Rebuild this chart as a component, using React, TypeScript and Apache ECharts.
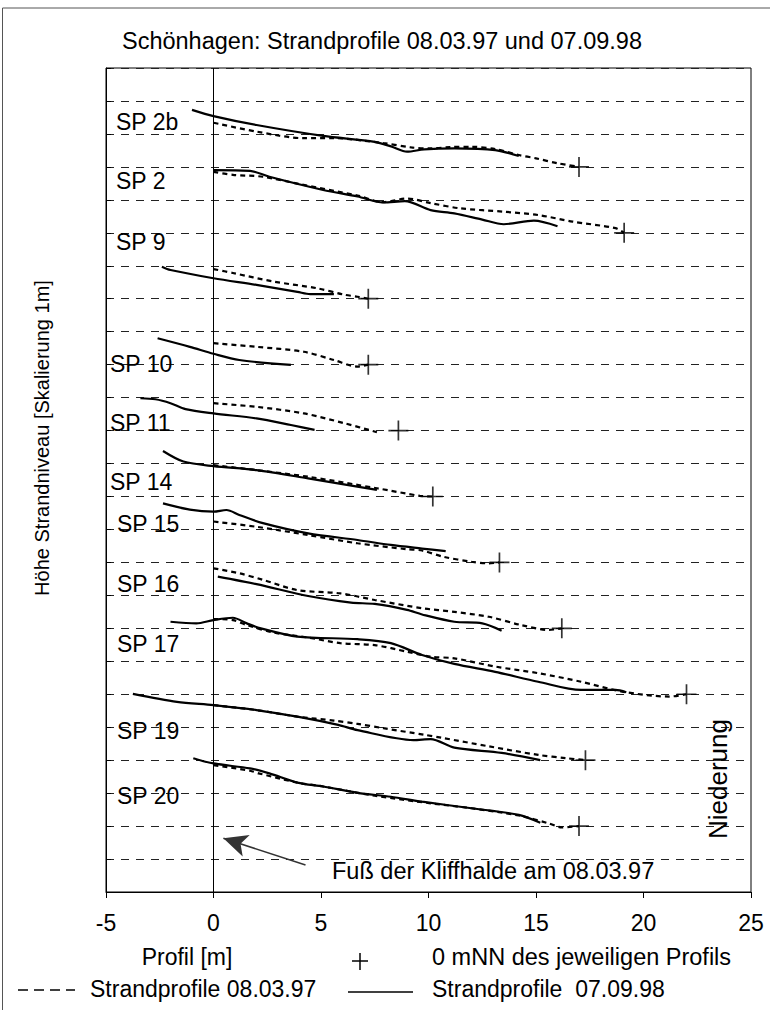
import React, { useEffect, useRef } from "react";
import * as echarts from "echarts";

// ---------- data (x = Profil [m], y = Höhe, 1 grid step = 1 m) ----------
const xTicks = [-5, 0, 5, 10, 15, 20, 25];

const profileNames = ["SP 2b", "SP 2", "SP 9", "SP 10", "SP 11", "SP 14", "SP 15", "SP 16", "SP 17", "SP 19", "SP 20"];

// 0 mNN of each profile (crosses)
const zeroMarks = [
  [17, 22], [19.1, 20], [7.2, 18], [7.2, 16], [8.6, 14], [10.2, 12],
  [13.3, 10], [16.2, 8], [22, 6], [17.3, 4], [17, 2],
];

// Strandprofile 08.03.97 (dashed)
const sp2b_97 = [[0, 23.34], [2, 23.07], [4.2, 22.87], [5.6, 22.87], [7.9, 22.72], [9.2, 22.59], [10.1, 22.56], [11, 22.6], [12, 22.61], [13.1, 22.54], [14.2, 22.36], [15, 22.26], [16, 22.11], [17, 22]];
const sp2_97 = [[0, 21.85], [0.9, 21.76], [2.3, 21.7], [4, 21.48], [6.7, 21.13], [7.9, 20.93], [9, 21.04], [10.1, 20.9], [11.5, 20.74], [13.5, 20.64], [15.1, 20.54], [16.7, 20.34], [18.7, 20.14], [19.1, 20]];
const sp9_97 = [[0, 18.9], [0.9, 18.78], [2.8, 18.52], [4.8, 18.32], [6.1, 18.12], [6.7, 18.06], [7.2, 18]];
const sp10_97 = [[0, 16.65], [2, 16.54], [4.2, 16.39], [5.6, 16.14], [6.7, 15.94], [7.2, 16]];
const sp11_97 = [[0, 14.83], [2, 14.72], [4.2, 14.52], [6.1, 14.22], [7.6, 13.95]];
const sp14_97 = [[0, 12.95], [2, 12.8], [4.4, 12.6], [7.6, 12.25], [9.6, 12.02], [10.2, 12]];
const sp15_97 = [[0, 11.24], [2, 11.08], [4.4, 10.83], [6.7, 10.58], [9, 10.4], [9.7, 10.36], [10.7, 10.17], [12, 10.02], [12.8, 9.97], [13.3, 10]];
const sp16_97 = [[0, 9.82], [1.2, 9.67], [2.3, 9.47], [3.9, 9.16], [5.9, 9.06], [7.5, 8.86], [9.7, 8.61], [11.2, 8.5], [12.8, 8.35], [14.3, 8.1], [15.6, 7.95], [16.2, 8]];
const sp17_97 = [[0, 8.28], [0.9, 8.25], [1.55, 8.1], [2.8, 7.87], [4.4, 7.72], [5.9, 7.55], [7.5, 7.49], [9, 7.29], [10.1, 7.14], [11.2, 7.09], [13.1, 6.84], [15.1, 6.64], [17.1, 6.38], [19, 6.08], [21.2, 5.93], [22, 6]];
const sp19_97 = [[0, 5.67], [2, 5.52], [3.9, 5.32], [5.6, 5.2], [6.7, 5.1], [7.9, 4.97], [9.8, 4.77], [10.6, 4.68], [12.8, 4.42], [15.1, 4.16], [16.4, 4.06], [17.3, 4]];
const sp20_97 = [[0, 3.85], [1.7, 3.68], [2.1, 3.6], [3.9, 3.32], [5.1, 3.2], [7.5, 2.92], [10.1, 2.69], [12, 2.54], [14.2, 2.32], [15.6, 2.08], [16.2, 1.96], [17, 2]];

// Strandprofile 07.09.98 (solid)
const sp2b_98 = [[-1, 23.73], [0, 23.54], [2, 23.27], [5.1, 22.94], [7.5, 22.76], [8.3, 22.61], [9, 22.46], [9.8, 22.53], [11.2, 22.56], [13.1, 22.51], [14.2, 22.33]];
const sp2_98 = [[0, 21.9], [1.7, 21.88], [2.6, 21.7], [5.1, 21.3], [6.7, 21.1], [7.9, 20.92], [8.9, 20.96], [10.1, 20.69], [11.2, 20.59], [12.5, 20.4], [13.5, 20.26], [14.9, 20.37], [16, 20.2]];
const sp9_98 = [[-2.4, 18.97], [-2, 18.87], [0, 18.62], [2, 18.42], [3.9, 18.21], [4.5, 18.14], [5.6, 18.14]];
const sp10_98 = [[-2.6, 16.8], [-1.1, 16.54], [0, 16.33], [1.2, 16.14], [3.6, 15.99]];
const sp11_98 = [[-3.4, 14.98], [-2.7, 14.95], [-2, 14.83], [-1.3, 14.65], [0, 14.52], [2, 14.37], [3.6, 14.17], [4.7, 14.02]];
const sp14_98 = [[-2.35, 13.38], [-1.4, 13.06], [0, 12.92], [2, 12.8], [4.4, 12.55], [7.6, 12.2]];
const sp15_98 = [[-2.35, 11.79], [-1.1, 11.6], [0, 11.54], [0.6, 11.59], [1.2, 11.44], [2.3, 11.19], [4.4, 10.88], [6.7, 10.68], [8.25, 10.53], [9.7, 10.42], [10.8, 10.34]];
const sp16_98 = [[0.2, 9.57], [2, 9.34], [4.4, 8.98], [6.4, 8.78], [7.5, 8.74], [9, 8.56], [9.7, 8.42], [11.2, 8.2], [12.5, 8.15], [13.4, 7.93]];
const sp17_98 = [[-2, 8.2], [-0.8, 8.15], [0, 8.25], [0.9, 8.32], [1.55, 8.15], [2.2, 8], [3.9, 7.75], [6.7, 7.67], [8.25, 7.55], [9.7, 7.19], [11.2, 6.92], [13.1, 6.68], [15.1, 6.38], [17.1, 6.13], [18.7, 6.13], [19.2, 6.06]];
const sp19_98 = [[-3.75, 6.01], [-1.7, 5.77], [0, 5.67], [2, 5.52], [3.9, 5.32], [5.8, 5.07], [6.7, 4.91], [9.3, 4.61], [10.1, 4.64], [11.2, 4.38], [13.4, 4.22], [15.2, 4.0]];
const sp20_98 = [[-0.94, 4.06], [0, 3.9], [1.7, 3.75], [2.6, 3.6], [3.9, 3.32], [5.1, 3.2], [6.7, 3.01], [8.25, 2.89], [9.7, 2.74], [12, 2.54], [14.2, 2.34], [15.2, 2.1]];

const profiles1997 = [sp2b_97, sp2_97, sp9_97, sp10_97, sp11_97, sp14_97, sp15_97, sp16_97, sp17_97, sp19_97, sp20_97];
const profiles1998 = [sp2b_98, sp2_98, sp9_98, sp10_98, sp11_98, sp14_98, sp15_98, sp16_98, sp17_98, sp19_98, sp20_98];

// annotation arrow (data coordinates): Fuß der Kliffhalde
const arrowFrom = [4.28, 0.82];
const arrowTo = [0.46, 1.63];

// ---------- layout ----------
const FONT = '"Liberation Sans", Arial, Helvetica, sans-serif';
const spLabelLayout = [
  [116, 122], [116, 181], [116, 242], [110, 364], [110, 423], [110, 482],
  [117, 524], [117, 584], [117, 644], [117, 731], [117, 796],
];

function txt(text: string, x: number, y: number, size: number, align = "left", rotation = 0) {
  return {
    type: "text",
    x,
    y,
    rotation,
    z: 100,
    style: {
      text,
      fill: "#000",
      font: `${size}px ${FONT}`,
      textAlign: align,
      align,
      textVerticalAlign: "middle",
      verticalAlign: "middle",
    },
  };
}

function seg(x1: number, y1: number, x2: number, y2: number, width: number, dash?: number[], color = "#000") {
  return {
    type: "line",
    z: 100,
    shape: { x1, y1, x2, y2 },
    style: { stroke: color, lineWidth: width, lineDash: dash || null },
  };
}

function buildOption() {
  const series: any[] = [];
  profiles1997.forEach((d, i) => {
    series.push({
      name: profileNames[i] + " 08.03.97",
      type: "line",
      data: d,
      symbol: "none",
      smooth: 0.3,
      z: 3,
      lineStyle: { color: "#000", width: 2.2, type: [5, 4] },
    });
  });
  profiles1998.forEach((d, i) => {
    series.push({
      name: profileNames[i] + " 07.09.98",
      type: "line",
      data: d,
      symbol: "none",
      smooth: 0.3,
      z: 4,
      lineStyle: { color: "#000", width: 2.2, type: "solid" },
    });
  });
  series.push({
    name: "0 mNN",
    type: "scatter",
    data: zeroMarks,
    symbol: "path://M10,0L10,20M0,10L20,10",
    symbolSize: [20, 20],
    z: 5,
    itemStyle: { color: "none", borderColor: "#000", borderWidth: 1.7 },
  });
  series.push({
    name: "x0",
    type: "scatter",
    data: [],
    markLine: {
      silent: true,
      symbol: ["none", "none"],
      label: { show: false },
      lineStyle: { color: "#000", width: 1, type: "solid" },
      data: [{ xAxis: 0 }],
    },
  });
  series.push({
    name: "arrow",
    type: "scatter",
    data: [],
    markLine: {
      silent: true,
      symbol: ["none", "arrow"],
      symbolSize: [17, 24],
      label: { show: false },
      lineStyle: { color: "#333", width: 1.6, type: "solid" },
      data: [[{ coord: arrowFrom }, { coord: arrowTo }]],
    },
  });

  const graphic: any[] = [
    // outer frame
    seg(2.5, 8, 2.5, 1010, 1, undefined, "#555"),
    seg(2.5, 8, 770, 8, 1, undefined, "#555"),
    txt("Schönhagen: Strandprofile 08.03.97 und 07.09.98", 382, 41, 23.5, "center"),
    txt("Höhe Strandniveau [Skalierung 1m]", 42, 438, 20, "center", Math.PI / 2),
    txt("Niederung", 718, 779, 26, "center", Math.PI / 2),
    txt("Fuß der Kliffhalde am 08.03.97", 332, 871, 23.5, "left"),
    txt("Profil [m]", 187, 957, 23, "center"),
    seg(352, 961, 368, 961, 1.5),
    seg(360, 953, 360, 970, 1.5),
    txt("0 mNN des jeweiligen Profils", 432, 957, 23.5, "left"),
    seg(18, 990, 75, 990, 1.5, [10, 6]),
    txt("Strandprofile 08.03.97", 90, 989, 23, "left"),
    seg(348, 992, 413, 992, 1.5),
    txt("Strandprofile  07.09.98", 432, 989, 23, "left"),
  ];
  profileNames.forEach((n, i) => {
    graphic.push(txt(n, spLabelLayout[i][0], spLabelLayout[i][1], 23, "left"));
  });

  return {
    animation: false,
    backgroundColor: "#fff",
    grid: { left: 106, top: 68, right: 19, bottom: 118, show: true, borderColor: "#000", borderWidth: 1, backgroundColor: "transparent" },
    xAxis: {
      type: "value",
      min: xTicks[0],
      max: xTicks[xTicks.length - 1],
      interval: 5,
      axisLine: { show: true, onZero: false, lineStyle: { color: "#000", width: 1 } },
      axisTick: { show: true, inside: false, length: 6, lineStyle: { color: "#000" } },
      axisLabel: { color: "#000", fontSize: 23, fontFamily: FONT, margin: 19 },
      splitLine: { show: false },
    },
    yAxis: {
      type: "value",
      min: 0,
      max: 25,
      interval: 1,
      axisLine: { show: true, onZero: false, lineStyle: { color: "#000", width: 1 } },
      axisTick: { show: true, inside: true, length: 5, lineStyle: { color: "#000" } },
      axisLabel: { show: false },
      splitLine: { show: true, lineStyle: { color: "#222", width: 1, type: [8, 7] } },
    },
    series,
    graphic,
  };
}

export default function App() {
  const ref = useRef<HTMLDivElement>(null);
  useEffect(() => {
    const chart = echarts.init(ref.current!, null, { renderer: "svg" });
    chart.setOption(buildOption() as any);
    return () => chart.dispose();
  }, []);
  return (
    <div
      ref={ref}
      style={{ position: "absolute", left: 0, top: 0, width: 770, height: 1010, background: "#fff" }}
    />
  );
}
